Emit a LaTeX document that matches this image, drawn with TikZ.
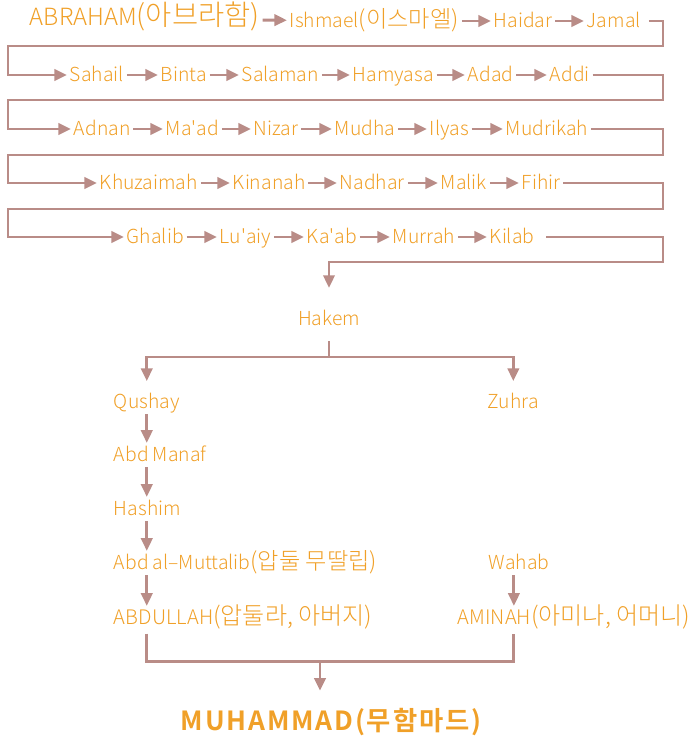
\documentclass[tikz,border=0pt]{standalone}
\usepackage{fontspec}
\setmainfont{Noto Sans CJK KR Light}[BoldFont={Noto Sans CJK KR Bold}]
\newfontfamily\kor[Scale=1.2]{Noto Sans CJK KR Light}
\usepackage{tikz}
\usetikzlibrary{arrows.meta}

\definecolor{namecol}{HTML}{F0A028}
\definecolor{linkcol}{HTML}{B98C87}

\tikzset{
	person/.style={text=namecol, font=\fontsize{11}{13}\selectfont, inner xsep=1.5pt, inner ysep=3pt, text height=7.4pt, text depth=0pt},
	bigger/.style={font=\fontsize{11.4}{13}\selectfont},
	link/.style={draw=linkcol, line width=1.7pt},
	arr/.style={link, -{Triangle[length=7.2pt,width=6.4pt]}}
}

\begin{document}
\begin{tikzpicture}[x=0.02cm, y=-0.02cm]
	\useasboundingbox (0,0) rectangle (690,741);
	% the long line of fathers, row by row
	\node[person, anchor=west, font=\fontsize{13.5}{16}\selectfont] (abraham) at (27,19) {ABRAHAM{\kor(아브라함)}};
	\foreach \n/\t/\x in {ishmael/Ishmael{\kor(이스마엘)}/287, haidar/Haidar/491, jamal/Jamal/584} {
		\node[person, anchor=west] (\n) at (\x,21) {\t};
	}
	\foreach \n/\t/\x in {sahail/Sahail/67, binta/Binta/158, salaman/Salaman/239, hamyasa/Hamyasa/350, adad/Adad/465, addi/Addi/547} {
		\node[person, anchor=west] (\n) at (\x,75) {\t};
	}
	\foreach \n/\t/\x in {adnan/Adnan/71, maad/Ma\textquotesingle ad/163, nizar/Nizar/251, mudha/Mudha/332, ilyas/Ilyas/427, mudrikah/Mudrikah/503} {
		\node[person, anchor=west] (\n) at (\x,129) {\t};
	}
	\foreach \n/\t/\x in {khuzaimah/Khuzaimah/97, kinanah/Kinanah/230, nadhar/Nadhar/337, malik/Malik/438, fihir/Fihir/519} {
		\node[person, anchor=west] (\n) at (\x,183) {\t};
	}
	\foreach \n/\t/\x in {ghalib/Ghalib/124, luaiy/Lu\textquotesingle aiy/217, kaab/Ka\textquotesingle ab/304, murrah/Murrah/390, kilab/Kilab/487} {
		\node[person, anchor=west] (\n) at (\x,237) {\t};
	}
	\foreach \a/\b in {abraham/ishmael, ishmael/haidar, haidar/jamal,
		sahail/binta, binta/salaman, salaman/hamyasa, hamyasa/adad, adad/addi,
		adnan/maad, maad/nizar, nizar/mudha, mudha/ilyas, ilyas/mudrikah,
		khuzaimah/kinanah, kinanah/nadhar, nadhar/malik, malik/fihir,
		ghalib/luaiy, luaiy/kaab, kaab/murrah, murrah/kilab} {
		\draw[arr] (\a) -- (\b);
	}
	% turns at the row ends
	\draw[arr, shorten <=3pt] (jamal.east) -- (663,21) -- (663,46) -- (8,46) |- (sahail.west);
	\draw[arr] (addi.east) -- (663,75) -- (663,100) -- (8,100) |- (adnan.west);
	\draw[arr] (mudrikah.east) -- (663,129) -- (663,155) -- (8,155) |- (khuzaimah.west);
	\draw[arr] (fihir.east) -- (663,183) -- (663,209) -- (8,209) |- (ghalib.west);

	% the two houses
	\node[person] (hakem) at (329,319) {Hakem};
	\draw[arr, shorten <=5pt, shorten >=10.8pt] (kilab.east) -- (663,237) -- (663,262) -| (hakem.north);
	\node[person, anchor=west] (qushay) at (111,402) {Qushay};
	\node[person, anchor=west] (zuhra) at (485,402) {Zuhra};
	\node[person, anchor=west] (abdmanaf) at (111,455) {Abd Manaf};
	\node[person, anchor=west] (hashim) at (111,509) {Hashim};
	\node[person, anchor=west] (muttalib) at (111,563) {Abd al–Muttalib{\kor(압둘 무딸립)}};
	\node[person, bigger, anchor=west] (abdullah) at (111,618) {ABDULLAH{\kor(압둘라, 아버지)}};
	\node[person, anchor=west] (wahab) at (486,563) {Wahab};
	\node[person, bigger, anchor=west] (aminah) at (455,618) {AMINAH{\kor(아미나, 어머니)}};
	\node[person, text height=10pt, font=\fontsize{15}{18}\selectfont\bfseries\addfontfeatures{LetterSpace=7}] (muhammad) at (331,722) {MUHAMMAD(무함마드)};

	\coordinate (split) at (329,357);
	\coordinate (join) at (320,661);
	\draw[link, shorten <=5.7pt] (hakem.south) -- (split);
	\draw[arr, shorten >=5pt] (split) -| (qushay.north);
	\draw[arr, shorten >=5pt] (split) -| (zuhra.north);
	\draw[arr] (qushay.south) -- (qushay.south |- abdmanaf.north);
	\draw[arr] (abdmanaf.south -| qushay.south) -- (qushay.south |- hashim.north);
	\draw[arr] (hashim.south -| qushay.south) -- (qushay.south |- muttalib.north);
	\draw[arr] (muttalib.south -| qushay.south) -- (qushay.south |- abdullah.north);
	\draw[arr] ([xshift=-3pt]wahab.south) -- ([xshift=-3pt]wahab.south |- aminah.north);
	\draw[link] ([yshift=-2pt]abdullah.south -| qushay.south) |- (join) -| ([xshift=-3pt, yshift=-2pt]aminah.south -| wahab.south);
	\draw[arr, shorten >=9.6pt] (join) -- (join |- muhammad.north);
\end{tikzpicture}
\end{document}
